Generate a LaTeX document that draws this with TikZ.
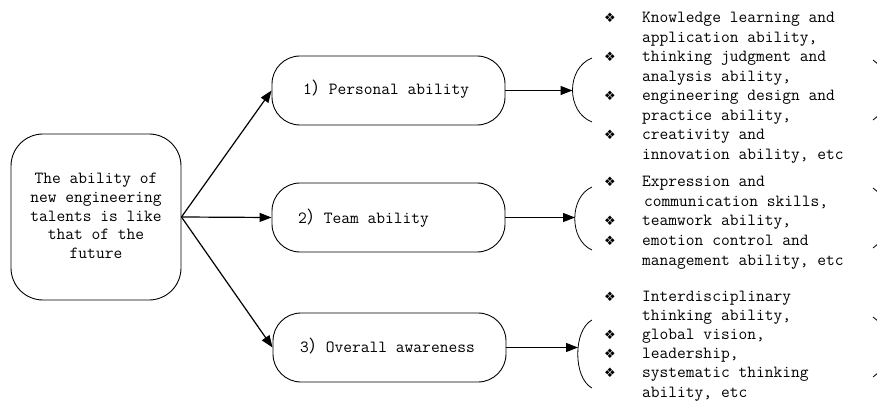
\documentclass[tikz,border=0pt]{standalone}
\usepackage{fontspec}
\newfontfamily\cjkfont{Noto Sans CJK SC}
\newfontfamily\dejavufont{DejaVu Sans}
\usetikzlibrary{arrows.meta}
\newcommand{\fwp}{{\cjkfont ）}}
\newcommand{\bul}{\makebox[38pt][l]{\hspace{0pt}\dejavufont\fontsize{13}{13}\selectfont ❖}}
\newcommand{\nob}{\hspace*{38pt}}
\newenvironment{lines}{\begin{tabular}[t]{@{}l@{}}}{\end{tabular}}
\begin{document}
\begin{tikzpicture}[x=1pt,y=-1pt,
  font=\ttfamily\fontsize{17}{19.5}\selectfont,
  boxst/.style={draw, line width=0.9pt, rounded corners=28pt, minimum width=233pt, minimum height=69pt, inner sep=0pt},
  bigbox/.style={draw, line width=0.9pt, rounded corners=32pt, minimum width=170pt, minimum height=166pt, inner sep=0pt},
  arr/.style={-{Triangle[length=12pt,width=9pt]}, line width=1.2pt},
  brk/.style={line width=0.8pt},
  lbl/.style={inner sep=0pt, anchor=base west},
  listst/.style={inner sep=0pt, anchor=base west}]
\useasboundingbox (0,0) rectangle (877,403);
\clip (0,0) rectangle (877,403);

% left box
\node[bigbox] (main) at (96,217) {};
\node[inner sep=0pt, align=center, font=\ttfamily\fontsize{17}{18.6}\selectfont] (maintext) at (96,216) {The ability of\\new engineering\\talents is like\\that of the\\future};

% middle boxes
\node[boxst] (p1) at (388.5,90.5) {};
\node[boxst] (p2) at (388.5,217.5) {};
\node[boxst] (p3) at (389.5,347.5) {};
\node[lbl] (t1) at (303,95) {1\fwp Personal ability};
\node[lbl] (t2) at (298,223) {2\fwp Team ability};
\node[lbl] (t3) at (300,352) {3\fwp Overall awareness};

\draw[arr] (main.east) -- (p1.west);
\draw[arr] (main.east) -- (p2.west);
\draw[arr] (main.east) -- (p3.west);

% brackets
\coordinate (b1) at (572.5,90.5);
\coordinate (b2) at (575,217.5);
\coordinate (b3) at (578,347.5);
\draw[brk] (592,58) .. controls (566,68) and (566,112) .. (592,122);
\draw[brk] (592,187) .. controls (569,197) and (569,240) .. (592,250);
\draw[brk] (592,320) .. controls (573,330) and (573,378) .. (592,388);
\draw[brk] (873,60) .. controls (893,74) and (893,106) .. (873,120);
\draw[brk] (873,188) .. controls (893,202) and (893,234) .. (873,248);
\draw[brk] (873,317) .. controls (893,331) and (893,363) .. (873,377);

\draw[arr] (p1.east) -- (b1);
\draw[arr] (p2.east) -- (b2);
\draw[arr] (p3.east) -- (b3);

% lists
\node[listst] (l1) at (604,23) {\begin{lines}\bul Knowledge learning and\\
\nob application ability,\\
\bul thinking judgment and\\
\nob analysis ability,\\
\bul engineering design and\\
\nob practice ability,\\
\bul creativity and\\
\nob innovation ability, etc\end{lines}};
\node[listst] (l2) at (604,187) {\begin{lines}\bul Expression and\\
\nob\hspace*{2pt}communication skills,\\
\bul teamwork ability,\\
\bul emotion control and\\
\nob management ability, etc\end{lines}};
\node[listst, font=\ttfamily\fontsize{17}{19.2}\selectfont] (l3) at (604,301) {\begin{lines}\bul Interdisciplinary\\
\nob thinking ability,\\
\bul global vision,\\
\bul leadership,\\
\bul systematic thinking\\
\nob ability, etc\end{lines}};
\end{tikzpicture}
\end{document}
